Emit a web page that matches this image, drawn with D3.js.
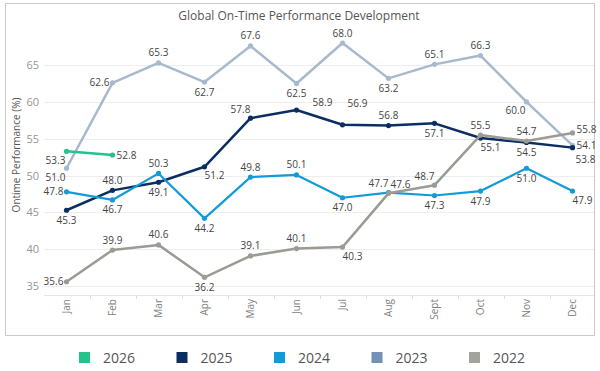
<!DOCTYPE html>
<html>
<head>
<meta charset="utf-8">
<script src="https://cdn.jsdelivr.net/npm/d3@7"></script>
<style>
  body { margin: 0; background: #fff; }
  text { font-family: "Open Sans", sans-serif; }
</style>
</head>
<body>
<div id="chart"></div>
<script>
// data
const months = ["Jan", "Feb", "Mar", "Apr", "May", "Jun", "Jul", "Aug", "Sept", "Oct", "Nov", "Dec"];
const years = ["2026", "2025", "2024", "2023", "2022"];
const v2026 = [53.3, 52.8];
const v2025 = [45.3, 48.0, 49.1, 51.2, 57.8, 58.9, 56.9, 56.8, 57.1, 55.1, 54.5, 53.8];
const v2024 = [47.8, 46.7, 50.3, 44.2, 49.8, 50.1, 47.0, 47.7, 47.3, 47.9, 51.0, 47.9];
const v2023 = [51.0, 62.6, 65.3, 62.7, 67.6, 62.5, 68.0, 63.2, 65.1, 66.3, 60.0, 54.1];
const v2022 = [35.6, 39.9, 40.6, 36.2, 39.1, 40.1, 40.3, 47.6, 48.7, 55.5, 54.7, 55.8];
const yTicks = [35, 40, 45, 50, 55, 60, 65];

// where each value label sits relative to its point
const labelPos = {
  "2026": ["bl", "r"],
  "2025": ["b", "a", "b", "br", "al", "arr", "arh", "a", "b", "br", "b", "brl"],
  "2024": ["l", "b", "a", "b", "a", "a", "b", "al", "b", "b", "b", "br"],
  "2023": ["bl", "l", "a", "b", "a", "b", "a", "b", "a", "a", "bl", "r"],
  "2022": ["l", "a", "a", "b", "a", "a", "br", "ar", "al", "a", "a", "ru"]
};

const colors = { "2026": "#25c28c", "2025": "#0c2d62", "2024": "#139bd8", "2023": "#a9b9cc", "2022": "#9b9b95" };
const legendColors = { "2026": "#25c28c", "2025": "#0c2d62", "2024": "#139bd8", "2023": "#7391b5", "2022": "#a3a39e" };

const series = [
  { year: "2023", values: v2023 },
  { year: "2025", values: v2025 },
  { year: "2024", values: v2024 },
  { year: "2022", values: v2022 },
  { year: "2026", values: v2026 }
];

const width = 600, height = 371;
const svg = d3.select("#chart").append("svg")
  .attr("width", width)
  .attr("height", height);

// outer frame
svg.append("rect")
  .attr("x", 5.5).attr("y", 3.5)
  .attr("width", 589).attr("height", 332)
  .attr("fill", "none")
  .attr("stroke", "#cacaca");

svg.append("text")
  .attr("x", 299).attr("y", 20)
  .attr("text-anchor", "middle")
  .attr("font-size", 12)
  .attr("fill", "#555")
  .text("Global On-Time Performance Development");

const x = d3.scaleBand().domain(months).range([43.5, 595.5]).padding(0);
const y = d3.scaleLinear().domain([33.8, 69.9]).range([295, 29]);
const cx = m => x(m) + x.bandwidth() / 2;

// gridlines
svg.append("g").selectAll("line")
  .data(yTicks).enter().append("line")
  .attr("x1", 44).attr("x2", 594)
  .attr("y1", d => Math.round(y(d)) + 0.5)
  .attr("y2", d => Math.round(y(d)) + 0.5)
  .attr("stroke", "#ededed");

// y tick labels
svg.append("g").selectAll("text")
  .data(yTicks).enter().append("text")
  .attr("x", 39).attr("y", d => y(d) + 4)
  .attr("text-anchor", "end")
  .attr("font-size", 11)
  .attr("fill", "#959595")
  .text(d => d);

svg.append("text")
  .attr("transform", "translate(20,155) rotate(-90)")
  .attr("text-anchor", "middle")
  .attr("font-size", 10)
  .attr("fill", "#555")
  .text("Ontime Performance (%)");

// x axis
const xAxis = svg.append("g");
xAxis.append("line")
  .attr("x1", 44).attr("x2", 594)
  .attr("y1", 295.5).attr("y2", 295.5)
  .attr("stroke", "#e6e6e6");
xAxis.selectAll("line.tick")
  .data(months.slice(1)).enter().append("line")
  .attr("class", "tick")
  .attr("x1", d => Math.round(x(d)) + 0.5).attr("x2", d => Math.round(x(d)) + 0.5)
  .attr("y1", 295).attr("y2", 299)
  .attr("stroke", "#dcdcdc");
xAxis.selectAll("text")
  .data(months).enter().append("text")
  .attr("transform", d => `translate(${cx(d) + 3.5},299) rotate(-90)`)
  .attr("text-anchor", "end")
  .attr("font-size", 10)
  .attr("fill", "#808080")
  .text(d => d);

const line = d3.line()
  .x((d, i) => cx(months[i]))
  .y(d => y(d));

const offsets = {
  a: [0, -10], b: [0, 10], l: [-13, 0], r: [14, 0], ru: [14, -3],
  al: [-10, -9], ar: [12, -9], arr: [26, -8], arh: [15, -21],
  bl: [-11, 9], br: [10, 9], brl: [13, 12]
};

series.forEach(s => {
  const g = svg.append("g");
  g.append("path")
    .datum(s.values)
    .attr("d", line)
    .attr("fill", "none")
    .attr("stroke", colors[s.year])
    .attr("stroke-width", s.year === "2024" ? 2.2 : 2.5)
    .attr("stroke-linejoin", "round");
  g.selectAll("circle")
    .data(s.values).enter().append("circle")
    .attr("cx", (d, i) => cx(months[i]))
    .attr("cy", d => y(d))
    .attr("r", 2.6)
    .attr("fill", colors[s.year]);
});

// value labels on top
series.forEach(s => {
  svg.append("g").selectAll("text")
    .data(s.values).enter().append("text")
    .attr("x", (d, i) => cx(months[i]) + offsets[labelPos[s.year][i]][0])
    .attr("y", (d, i) => y(d) + offsets[labelPos[s.year][i]][1] + 3.5)
    .attr("text-anchor", "middle")
    .attr("font-size", 10)
    .attr("fill", "#444")
    .text(d => d.toFixed(1));
});

// legend
const legend = svg.append("g").selectAll("g")
  .data(years).enter().append("g")
  .attr("transform", (d, i) => `translate(${79 + i * 97.5},352)`);
legend.append("rect")
  .attr("width", 11).attr("height", 11)
  .attr("fill", d => legendColors[d]);
legend.append("text")
  .attr("x", 24).attr("y", 11)
  .attr("font-size", 14)
  .attr("fill", "#555")
  .text(d => d);
</script>
</body>
</html>
